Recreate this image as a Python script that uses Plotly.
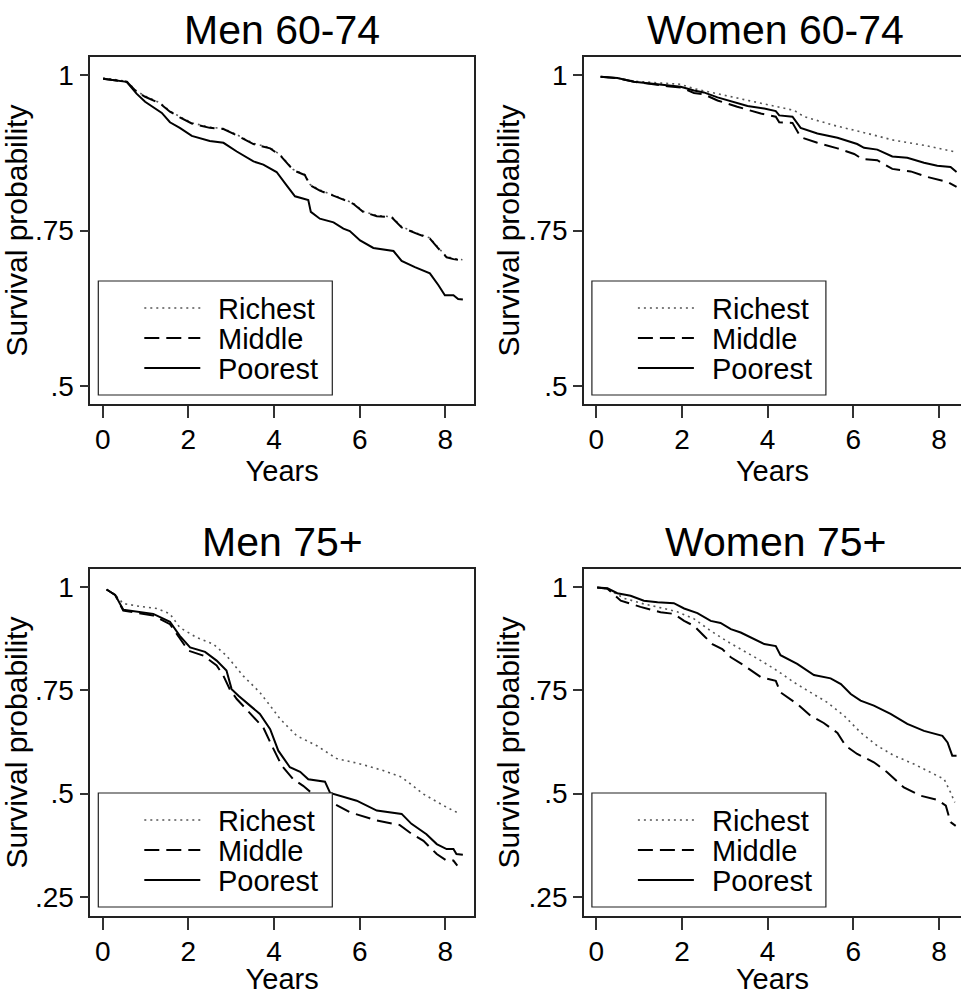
import plotly.graph_objects as go

# ---------------- data ----------------
panel_titles = ["Men 60-74", "Women 60-74", "Men 75+", "Women 75+"]
series_names = ["Richest", "Middle", "Poorest"]
x_ticks = [0, 2, 4, 6, 8]
y_ticks_top = [0.5, 0.75, 1.0]
y_ticklabels_top = [".5", ".75", "1"]
y_ticks_bottom = [0.25, 0.5, 0.75, 1.0]
y_ticklabels_bottom = [".25", ".5", ".75", "1"]

# Men 60-74
m6_rich_x = [0.01, 0.56, 0.79, 0.99, 1.34, 1.57, 1.80, 2.08, 2.50, 2.82, 3.13, 3.52, 3.91, 4.14, 4.45, 4.72, 4.84, 5.07, 5.46, 5.85, 6.08, 6.40, 6.75, 6.98, 7.33, 7.64, 7.84, 8.03, 8.19, 8.40]
m6_rich_y = [0.995, 0.990, 0.974, 0.966, 0.955, 0.942, 0.933, 0.923, 0.916, 0.914, 0.904, 0.890, 0.883, 0.872, 0.848, 0.840, 0.824, 0.815, 0.805, 0.794, 0.781, 0.774, 0.772, 0.756, 0.746, 0.738, 0.722, 0.708, 0.705, 0.703]
m6_mid_x = [0.01, 0.56, 0.79, 0.99, 1.34, 1.57, 1.80, 2.08, 2.50, 2.82, 3.13, 3.52, 3.91, 4.14, 4.45, 4.72, 4.84, 5.07, 5.46, 5.85, 6.08, 6.40, 6.75, 6.98, 7.33, 7.64, 7.84, 8.03, 8.19, 8.38]
m6_mid_y = [0.994, 0.989, 0.973, 0.965, 0.954, 0.941, 0.932, 0.922, 0.915, 0.913, 0.903, 0.889, 0.882, 0.871, 0.847, 0.839, 0.823, 0.814, 0.804, 0.793, 0.780, 0.773, 0.771, 0.755, 0.745, 0.737, 0.721, 0.707, 0.704, 0.702]
m6_poor_x = [0.01, 0.56, 0.79, 0.99, 1.38, 1.57, 1.80, 2.08, 2.50, 2.82, 3.13, 3.52, 3.75, 4.06, 4.29, 4.49, 4.80, 4.86, 5.07, 5.39, 5.62, 5.77, 6.01, 6.32, 6.79, 6.98, 7.29, 7.64, 7.84, 7.99, 8.19, 8.30, 8.41]
m6_poor_y = [0.994, 0.989, 0.970, 0.957, 0.939, 0.924, 0.915, 0.902, 0.894, 0.891, 0.877, 0.861, 0.856, 0.844, 0.823, 0.805, 0.799, 0.780, 0.769, 0.763, 0.753, 0.749, 0.734, 0.722, 0.717, 0.701, 0.691, 0.681, 0.662, 0.646, 0.646, 0.640, 0.639]

# Women 60-74
w6_rich_x = [0.10, 0.49, 0.88, 1.66, 1.97, 2.28, 2.83, 3.37, 3.92, 4.62, 4.85, 5.55, 6.33, 6.95, 7.65, 8.41]
w6_rich_y = [0.997, 0.995, 0.990, 0.987, 0.985, 0.978, 0.970, 0.962, 0.954, 0.943, 0.933, 0.919, 0.906, 0.895, 0.887, 0.876]
w6_mid_x = [0.10, 0.49, 0.88, 1.27, 1.66, 1.97, 2.28, 2.51, 2.83, 3.29, 3.84, 4.19, 4.27, 4.58, 4.77, 5.16, 5.63, 6.02, 6.21, 6.56, 6.91, 7.34, 7.73, 8.20, 8.41]
w6_mid_y = [0.997, 0.995, 0.989, 0.985, 0.982, 0.980, 0.971, 0.969, 0.959, 0.949, 0.938, 0.933, 0.924, 0.923, 0.900, 0.891, 0.882, 0.873, 0.865, 0.863, 0.849, 0.845, 0.836, 0.828, 0.820]
w6_poor_x = [0.10, 0.49, 0.88, 1.27, 1.66, 1.97, 2.28, 2.51, 2.83, 3.14, 3.53, 3.92, 4.19, 4.27, 4.58, 4.77, 5.16, 5.63, 6.09, 6.25, 6.56, 6.91, 7.26, 7.65, 7.96, 8.27, 8.41]
w6_poor_y = [0.997, 0.995, 0.989, 0.986, 0.984, 0.981, 0.975, 0.972, 0.964, 0.958, 0.950, 0.946, 0.942, 0.935, 0.933, 0.915, 0.906, 0.899, 0.889, 0.883, 0.880, 0.869, 0.867, 0.859, 0.854, 0.852, 0.844]

# Men 75+
m7_rich_x = [0.09, 0.29, 0.48, 0.87, 1.26, 1.57, 1.80, 2.19, 2.58, 2.89, 3.28, 3.67, 3.91, 4.14, 4.53, 5.00, 5.46, 6.01, 6.55, 6.98, 7.49, 7.96, 8.34]
m7_rich_y = [0.994, 0.981, 0.960, 0.953, 0.948, 0.935, 0.902, 0.878, 0.862, 0.834, 0.785, 0.745, 0.713, 0.681, 0.640, 0.616, 0.585, 0.572, 0.556, 0.540, 0.499, 0.471, 0.451]
m7_mid_x = [0.09, 0.29, 0.48, 0.79, 1.18, 1.57, 1.80, 2.00, 2.35, 2.66, 2.81, 2.97, 3.13, 3.52, 3.75, 3.95, 4.18, 4.45, 4.68, 4.84, 5.31, 5.77, 6.40, 6.94, 7.17, 7.49, 7.80, 8.03, 8.19, 8.28]
m7_mid_y = [0.994, 0.981, 0.943, 0.937, 0.931, 0.910, 0.874, 0.846, 0.834, 0.810, 0.787, 0.752, 0.729, 0.685, 0.660, 0.616, 0.568, 0.535, 0.519, 0.505, 0.481, 0.455, 0.435, 0.424, 0.406, 0.386, 0.354, 0.338, 0.338, 0.326]
m7_poor_x = [0.09, 0.29, 0.48, 0.79, 1.18, 1.57, 1.80, 2.04, 2.39, 2.66, 2.89, 3.01, 3.17, 3.44, 3.67, 3.91, 4.10, 4.37, 4.61, 4.80, 5.19, 5.31, 5.93, 6.40, 6.98, 7.21, 7.56, 7.80, 8.03, 8.19, 8.26, 8.41]
m7_poor_y = [0.994, 0.981, 0.945, 0.940, 0.935, 0.916, 0.882, 0.854, 0.843, 0.822, 0.798, 0.753, 0.737, 0.713, 0.693, 0.656, 0.604, 0.564, 0.553, 0.535, 0.529, 0.502, 0.483, 0.459, 0.451, 0.427, 0.402, 0.378, 0.366, 0.366, 0.354, 0.352]

# Women 75+
w7_rich_x = [0.02, 0.26, 0.64, 1.11, 1.58, 1.89, 2.28, 2.67, 3.06, 3.45, 3.84, 4.23, 4.62, 5.00, 5.39, 5.78, 6.17, 6.56, 6.95, 7.41, 7.80, 8.12, 8.27, 8.37]
w7_rich_y = [0.999, 0.996, 0.973, 0.959, 0.948, 0.940, 0.923, 0.894, 0.868, 0.846, 0.822, 0.797, 0.769, 0.745, 0.721, 0.689, 0.648, 0.616, 0.592, 0.572, 0.552, 0.535, 0.503, 0.479]
w7_mid_x = [0.02, 0.26, 0.57, 1.03, 1.50, 1.81, 2.05, 2.28, 2.51, 2.71, 2.94, 3.14, 3.45, 3.84, 4.19, 4.30, 4.69, 5.00, 5.31, 5.63, 5.82, 6.09, 6.48, 6.79, 7.18, 7.57, 7.96, 8.16, 8.27, 8.39]
w7_mid_y = [0.999, 0.996, 0.967, 0.952, 0.939, 0.935, 0.918, 0.906, 0.882, 0.862, 0.850, 0.830, 0.810, 0.782, 0.773, 0.745, 0.717, 0.689, 0.671, 0.647, 0.616, 0.596, 0.576, 0.552, 0.515, 0.495, 0.485, 0.471, 0.431, 0.422]
w7_poor_x = [0.02, 0.26, 0.49, 0.80, 1.11, 1.43, 1.81, 2.05, 2.36, 2.67, 2.90, 3.14, 3.37, 3.60, 3.92, 4.19, 4.30, 4.69, 5.08, 5.47, 5.71, 5.94, 6.17, 6.48, 6.87, 7.26, 7.65, 8.08, 8.20, 8.31, 8.41]
w7_poor_y = [0.999, 0.997, 0.985, 0.979, 0.967, 0.963, 0.961, 0.948, 0.937, 0.918, 0.913, 0.898, 0.890, 0.878, 0.862, 0.857, 0.835, 0.814, 0.787, 0.779, 0.765, 0.741, 0.725, 0.713, 0.693, 0.669, 0.652, 0.640, 0.624, 0.592, 0.592]

panel_data = [
    [(m6_rich_x, m6_rich_y), (m6_mid_x, m6_mid_y), (m6_poor_x, m6_poor_y)],
    [(w6_rich_x, w6_rich_y), (w6_mid_x, w6_mid_y), (w6_poor_x, w6_poor_y)],
    [(m7_rich_x, m7_rich_y), (m7_mid_x, m7_mid_y), (m7_poor_x, m7_poor_y)],
    [(w7_rich_x, w7_rich_y), (w7_mid_x, w7_mid_y), (w7_poor_x, w7_poor_y)],
]

# ---------------- layout helpers ----------------
W, H = 961, 995
FONT = "Liberation Sans, Arial, Helvetica, sans-serif"


def PX(p):
    return p / W


def PY(p):
    return 1 - p / H


line_styles = [
    dict(color="#555555", width=1.6, dash="2px,4px"),
    dict(color="black", width=2, dash="15px,7px"),
    dict(color="black", width=2, dash="solid"),
]

# frame pixel boxes: left, top, right(visible), bottom ; full-frame right for title centring
frames = [
    (90.3, 57, 474, 404, 474),
    (583.9, 57, 961, 404, 967.6),
    (90.3, 569, 474, 916, 474),
    (583.9, 569, 961, 916, 967.6),
]
x_ranges = [[-0.29, 8.67], [-0.29, 8.514], [-0.29, 8.67], [-0.29, 8.514]]
y_ranges = [[0.4711, 1.0289], [0.4711, 1.0289], [0.204, 1.0436], [0.204, 1.0436]]
title_cy = [30, 30, 542, 542]

fig = go.Figure()
shapes = []
annotations = []

for i in range(4):
    sfx = "" if i == 0 else str(i + 1)
    xa, ya = "x" + sfx, "y" + sfx
    for k, (xs, ys) in enumerate(panel_data[i]):
        fig.add_trace(go.Scatter(x=xs, y=ys, mode="lines", name=series_names[k],
                                 line=line_styles[k], showlegend=False,
                                 xaxis=xa, yaxis=ya))
    l, t, r, b, rfull = frames[i]
    bottom_row = i >= 2
    fig.update_layout(**{
        "xaxis" + sfx: dict(
            domain=[PX(l), min(1.0, PX(r))], range=x_ranges[i], anchor=ya,
            tickvals=x_ticks, ticks="outside", ticklen=12, tickwidth=1.5,
            tickcolor="#333333", showline=True, linecolor="#222222", linewidth=1.6,
            mirror=True, showgrid=False, zeroline=False,
            tickfont=dict(family=FONT, size=28, color="black"),
            ticklabelstandoff=-2,
            title=dict(text="Years", font=dict(family=FONT, size=29, color="black"), standoff=0),
        ),
        "yaxis" + sfx: dict(
            domain=[PY(b), PY(t)], range=y_ranges[i], anchor=xa,
            tickvals=y_ticks_bottom if bottom_row else y_ticks_top,
            ticktext=y_ticklabels_bottom if bottom_row else y_ticklabels_top,
            ticks="outside", ticklen=9, tickwidth=1.5, tickcolor="#333333",
            showline=True, linecolor="#222222", linewidth=1.6,
            mirror=(i % 2 == 0), showgrid=False, zeroline=False,
            tickfont=dict(family=FONT, size=28, color="black"),
            title=dict(text="Survival probability", font=dict(family=FONT, size=30, color="black"), standoff=0),
        ),
    })
    # panel title
    annotations.append(dict(text=panel_titles[i], x=PX((l + rfull) / 2), y=PY(title_cy[i]),
                            xref="paper", yref="paper", xanchor="center", yanchor="middle",
                            showarrow=False, font=dict(family=FONT, size=41, color="black")))
    # legend box
    bl = l + 8
    bt = t + 224
    br = bl + 234
    bb = bt + 114
    shapes.append(dict(type="rect", xref="paper", yref="paper", x0=PX(bl), x1=PX(br),
                       y0=PY(bb), y1=PY(bt), line=dict(color="#222222", width=1.2),
                       fillcolor="white", layer="above"))
    for k in range(3):
        ry = bt + 27 + k * 30
        st = line_styles[k]
        shapes.append(dict(type="line", xref="paper", yref="paper",
                           x0=PX(bl + 46), x1=PX(bl + 102), y0=PY(ry), y1=PY(ry),
                           line=dict(color=st["color"], width=st["width"], dash=st["dash"]),
                           layer="above"))
        annotations.append(dict(text=series_names[k], x=PX(bl + 118), y=PY(ry + 1),
                                xref="paper", yref="paper", xanchor="left", yanchor="middle",
                                showarrow=False, font=dict(family=FONT, size=29, color="black")))

fig.update_layout(width=W, height=H, margin=dict(l=0, r=0, t=0, b=0), autosize=False,
                  paper_bgcolor="white", plot_bgcolor="white",
                  shapes=shapes, annotations=annotations, showlegend=False)

fig.write_html("out.html", config={"displayModeBar": False},
               post_script="document.body.style.margin='0px';document.body.style.overflow='hidden';")
